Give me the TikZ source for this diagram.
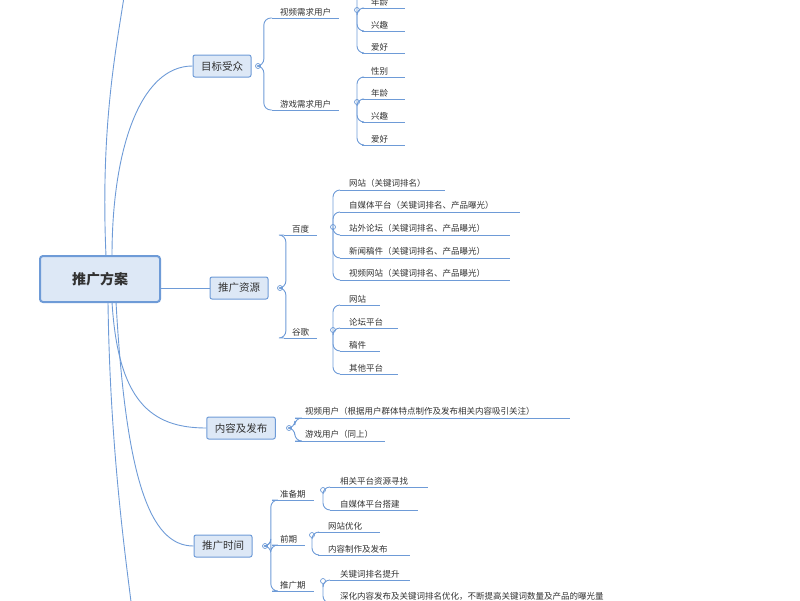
\documentclass[tikz,border=0pt]{standalone}
\usepackage{fontspec}
\newfontfamily\cjk{Noto Sans CJK SC}
\definecolor{mline}{RGB}{110,155,215}
\definecolor{mfill}{RGB}{221,232,246}
\definecolor{mtext}{RGB}{50,50,50}
\tikzset{
  link/.style={mline,line width=0.9pt,rounded corners=7pt},
  root/.style={draw=mline,line width=2pt,fill=mfill,rounded corners=3pt,minimum width=120pt,minimum height=46pt,font=\cjk\fontsize{14}{16}\selectfont\bfseries,text=mtext},
  topic/.style={draw=mline,line width=1pt,fill=mfill,rounded corners=2pt,minimum height=22pt,inner xsep=8pt,font=\cjk\fontsize{10.5}{12}\selectfont,text=mtext},
  sub/.style={anchor=south west,inner xsep=8pt,inner ysep=2pt,font=\cjk\fontsize{8.5}{10}\selectfont,text=mtext},
  leaf/.style={anchor=south west,align=left,inner xsep=9pt,inner ysep=2pt,font=\cjk\fontsize{8.5}{10}\selectfont,text=mtext},
  knob/.style={circle,draw=mline,fill=white,line width=0.7pt,inner sep=0pt,minimum size=5pt}
}
\begin{document}
\begin{tikzpicture}[x=1pt,y=-1pt]
\useasboundingbox (0,0) rectangle (800,600);
% main topics
\node[root] (plan) at (100,279) {推广方案};
\node[topic] (aud) at (222,66) {目标受众};
\node[topic] (res) at (239,288) {推广资源};
\node[topic] (pub) at (241,428) {内容及发布};
\node[topic] (time) at (223,546) {推广时间};
\coordinate (up) at (125,-10);
\coordinate (down) at (132,610);
\draw[mline,line width=0.9pt] (112,256) .. controls (112,150) and (140,66) .. (aud.west);
\draw[mline,line width=0.9pt] (106,256) .. controls (100,120) and (118,40) .. (up);
\draw[mline,line width=0.9pt] (plan.east) ++(0,9) -- (res.west);
\draw[mline,line width=0.9pt] (112,302) .. controls (118,400) and (150,428) .. (pub.west);
\draw[mline,line width=0.9pt] (116,302) .. controls (126,480) and (150,546) .. (time.west);
\draw[mline,line width=0.9pt] (108,302) .. controls (110,450) and (126,560) .. (down);
% 目标受众
\node[knob] (k1) at (258,66) {};
\node[sub] (vid) at (272,18) {视频需求用户};
\node[sub] (game) at (272,110) {游戏需求用户};
\draw[link] (k1.east) -- ++(3,0) |- (vid.south west);
\draw[link] (k1.east) -- ++(3,0) |- (game.south west);
\node[knob] (kv) at (357,10) {};
\node[knob] (kg) at (357,102) {};
\node[leaf,text width=25pt] (v1) at (362,-15) {性别};
\node[leaf,text width=25pt] (v2) at (362,8) {年龄};
\node[leaf,text width=25pt] (v3) at (362,31) {兴趣};
\node[leaf,text width=25pt] (v4) at (362,53) {爱好};
\node[leaf,text width=25pt] (g1) at (362,77) {性别};
\node[leaf,text width=25pt] (g2) at (362,99) {年龄};
\node[leaf,text width=25pt] (g3) at (362,122) {兴趣};
\node[leaf,text width=25pt] (g4) at (362,145) {爱好};
\foreach \n in {v1,v2,v3,v4} \draw[link] (kv.south) |- (\n.south west);
\foreach \n in {g1,g2,g3,g4} \draw[link] (kg.south) |- (\n.south west);
% 推广资源
\node[knob] (k2) at (280,288) {};
\node[sub] (bd) at (284,235) {百度};
\node[sub] (gg) at (284,338) {谷歌};
\draw[link] (k2.east) -- ++(3,0) |- (bd.south west);
\draw[link] (k2.east) -- ++(3,0) |- (gg.south west);
\node[knob] (kb) at (333,227) {};
\node[knob] (kgg) at (333,330) {};
\node[leaf,text width=87pt] (b1) at (340,190) {网站（关键词排名）};
\node[leaf,text width=162pt] (b2) at (340,212) {自媒体平台（关键词排名、产品曝光）};
\node[leaf,text width=152pt] (b3) at (340,235) {站外论坛（关键词排名、产品曝光）};
\node[leaf,text width=152pt] (b4) at (340,258) {新闻稿件（关键词排名、产品曝光）};
\node[leaf,text width=152pt] (b5) at (340,280) {视频网站（关键词排名、产品曝光）};
\node[leaf,text width=22pt] (c1) at (340,305) {网站};
\node[leaf,text width=40pt] (c2) at (340,328) {论坛平台};
\node[leaf,text width=22pt] (c3) at (340,351) {稿件};
\node[leaf,text width=40pt] (c4) at (340,374) {其他平台};
\foreach \n in {b1,b2,b3,b4,b5} \draw[link] (kb.south) |- (\n.south west);
\foreach \n in {c1,c2,c3,c4} \draw[link] (kgg.south) |- (\n.south west);
% 内容及发布
\node[knob] (k3) at (289,428) {};
\node[leaf,inner xsep=10pt,text width=255pt] (p1) at (295,418) {视频用户（根据用户群体特点制作及发布相关内容吸引关注）};
\node[leaf,inner xsep=10pt,text width=70pt] (p2) at (295,441) {游戏用户（同上）};
\foreach \n in {p1,p2} \draw[link] (k3.east) -- ++(3,0) |- (\n.south west);
% 推广时间
\node[knob] (k4) at (265,546) {};
\node[sub] (t1) at (272,500) {准备期};
\node[sub] (t2) at (272,545) {前期};
\node[sub] (t3) at (272,591) {推广期};
\foreach \n in {t1,t2,t3} \draw[link] (k4.east) -- ++(3,0) |- (\n.south west);
\node[knob] (kt1) at (323,490) {};
\node[knob] (kt2) at (312,535) {};
\node[knob] (kt3) at (323,581) {};
\node[leaf,inner xsep=10pt,text width=78pt] (r1) at (330,487) {相关平台资源寻找};
\node[leaf,inner xsep=10pt,text width=68pt] (r2) at (330,510) {自媒体平台搭建};
\node[leaf,inner xsep=10pt,text width=42pt] (s1) at (318,532) {网站优化};
\node[leaf,inner xsep=10pt,text width=72pt] (s2) at (318,555) {内容制作及发布};
\node[leaf,inner xsep=10pt,text width=60pt] (u1) at (330,580) {关键词排名提升};
\node[leaf,inner xsep=10pt,text width=450pt] (u2) at (330,603) {深化内容发布及关键词排名优化，不断提高关键词数量及产品的曝光量};
\foreach \n in {r1,r2} \draw[link] (kt1.south) |- (\n.south west);
\foreach \n in {s1,s2} \draw[link] (kt2.south) |- (\n.south west);
\foreach \n in {u1,u2} \draw[link] (kt3.south) |- (\n.south west);
% underlines
\foreach \n in {vid,game,v1,v2,v3,v4,g1,g2,g3,g4,bd,gg,b1,b2,b3,b4,b5,c1,c2,c3,c4,p1,p2,t1,t2,t3,r1,r2,s1,s2,u1,u2}
  \draw[mline,line width=0.9pt] (\n.south west) -- (\n.south east);
\end{tikzpicture}
\end{document}
